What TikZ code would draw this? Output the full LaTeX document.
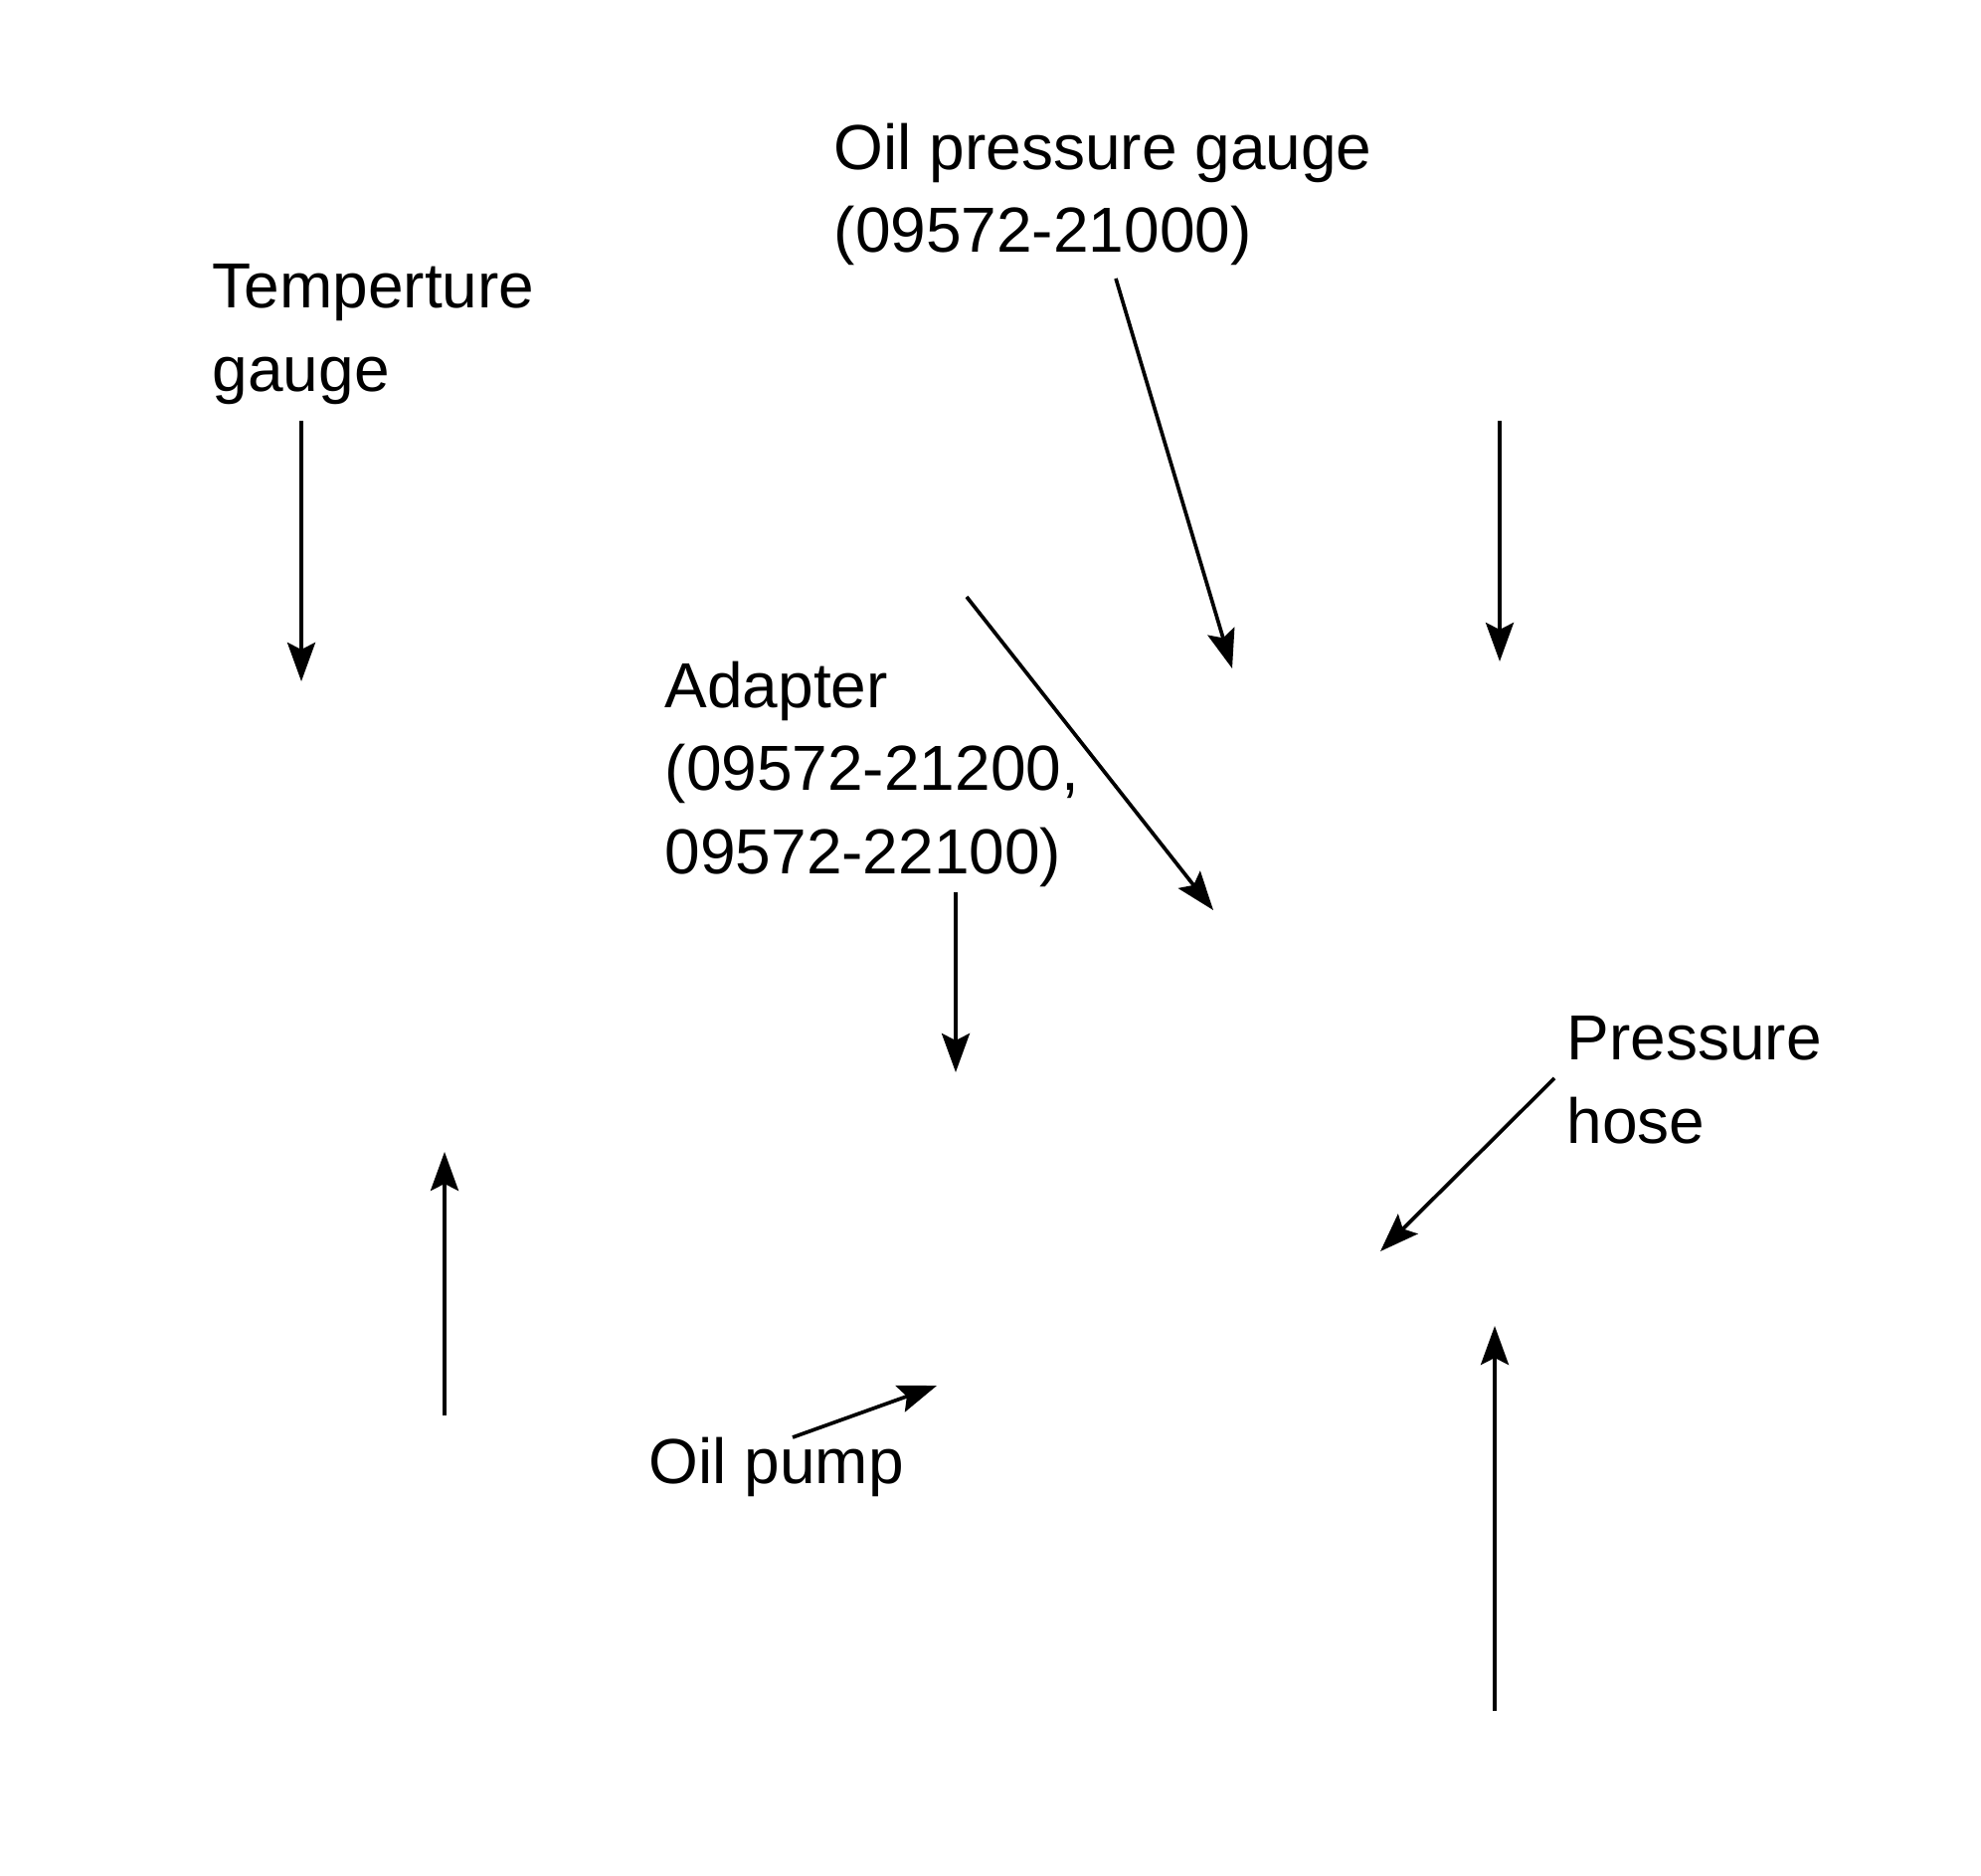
\documentclass[tikz,border=0pt]{standalone}
\usepackage{fontspec}
\setmainfont{Liberation Sans}
\usetikzlibrary{arrows.meta}
\begin{document}
\begin{tikzpicture}[
        x=0.01cm, y=-0.01cm,
        font=\fontsize{18.2}{23.8}\selectfont,
        callout/.style={anchor=north west, inner sep=0pt, align=left},
        arr/.style    ={-{Stealth[length=0.39cm, width=0.28cm, inset=0.07cm]}, line width=1.05pt},
    ]
    \useasboundingbox (0,0) rectangle (1992,1885);

    %% Labels
    \node[callout] (tempgauge) at (213, 265)  {Temperture\\gauge};
    \node[callout] (oilgauge)  at (838, 123)  {Oil pressure gauge\\(09572-21000)};
    \node[callout] (adapter)   at (668, 664)  {Adapter\\(09572-21200,\\09572-22100)};
    \node[callout] (hose)      at (1575, 1021) {Pressure\\hose};
    \node[callout] (oilpump)   at (652, 1444) {Oil pump};

    %% Arrow ends (tail A, tip B)
    \coordinate (tempA)  at (303, 423);   \coordinate (tempB)  at (303, 685);
    \coordinate (oilA)   at (1122, 280);  \coordinate (oilB)   at (1239, 672);
    \coordinate (topA)   at (1508, 423);  \coordinate (topB)   at (1508, 665);
    \coordinate (diagA)  at (972, 600);   \coordinate (diagB)  at (1220, 915);
    \coordinate (adaptA) at (961, 897);   \coordinate (adaptB) at (961, 1078);
    \coordinate (hoseA)  at (1563, 1084); \coordinate (hoseB)  at (1388, 1258);
    \coordinate (leftA)  at (447, 1423);  \coordinate (leftB)  at (447, 1158);
    \coordinate (pumpA)  at (797, 1445);  \coordinate (pumpB)  at (942, 1393);
    \coordinate (botA)   at (1503, 1720); \coordinate (botB)   at (1503, 1333);

    %% Arrows
    \foreach \a in {temp, oil, top, diag, adapt, hose, left, pump, bot}
        \draw[arr] (\a A) -- (\a B);

\end{tikzpicture}
\end{document}
